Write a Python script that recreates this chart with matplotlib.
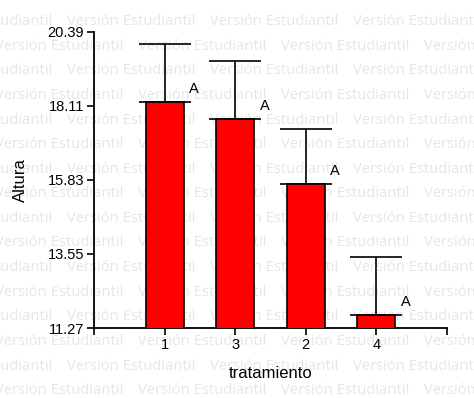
import matplotlib
matplotlib.use("Agg")
import matplotlib.pyplot as plt
import numpy as np

categories = ["1", "3", "2", "4"]
means = [18.24, 17.71, 15.71, 11.67]
err_top = [20.02, 19.49, 17.40, 13.47]
letters = ["A", "A", "A", "A"]
yticks = [11.27, 13.55, 15.83, 18.11, 20.39]

W, H = 474, 398
fig = plt.figure(figsize=(W/100, H/100), dpi=100)
fig.patch.set_facecolor("white")

# watermark
for r in range(17):
    yc = -3 + r*24.6
    x0 = -5 if r % 2 == 0 else -76
    for k in range(6):
        xs = x0 + k*143
        fig.text(xs/W, 1 - yc/H, "Versión Estudiantil", fontsize=10.6,
                 family="Open Sans", color="#e6e6e6", ha="left", va="center", zorder=0)

ax = fig.add_axes([94/W, 1-328/H, (447-94)/W, (328-32)/H])
ax.patch.set_alpha(0)
ax.set_zorder(2)
x = np.arange(len(categories))
errs = np.array(err_top) - np.array(means)
ax.bar(x, means, width=0.54, bottom=0, color="#ff0000", edgecolor="black", linewidth=1.2, zorder=3)
ax.errorbar(x, means, yerr=[np.zeros_like(errs), errs], fmt="none", ecolor="black",
            elinewidth=1.2, capsize=19, capthick=1.2, zorder=2)
for xi, m, l in zip(x, means, letters):
    ax.annotate(l, (xi + 0.27, m), xytext=(4, 4), textcoords="offset points",
                ha="left", va="bottom", fontsize=10.5, family="Liberation Sans")
ax.set_xlim(-1, 4)
ax.set_ylim(11.27, 20.39)
ax.set_xticks(x)
ax.set_xticklabels(categories, family="Liberation Sans", fontsize=10.5)
ax.set_xticks([-1, 4], minor=True)
ax.set_yticks(yticks)
ax.set_yticklabels([f"{v:.2f}" for v in yticks], family="Liberation Sans", fontsize=10.5)
for s in ["top", "right"]:
    ax.spines[s].set_visible(False)
for s in ["left", "bottom"]:
    ax.spines[s].set_linewidth(1.3)
ax.tick_params(axis="both", which="both", direction="out", length=5, width=1.2, pad=2)
ax.set_xlabel("tratamiento", family="Liberation Sans", fontsize=12, labelpad=10)
ax.set_ylabel("Altura", family="Liberation Sans", fontsize=12, labelpad=14)
fig.savefig("out.png", dpi=100)
